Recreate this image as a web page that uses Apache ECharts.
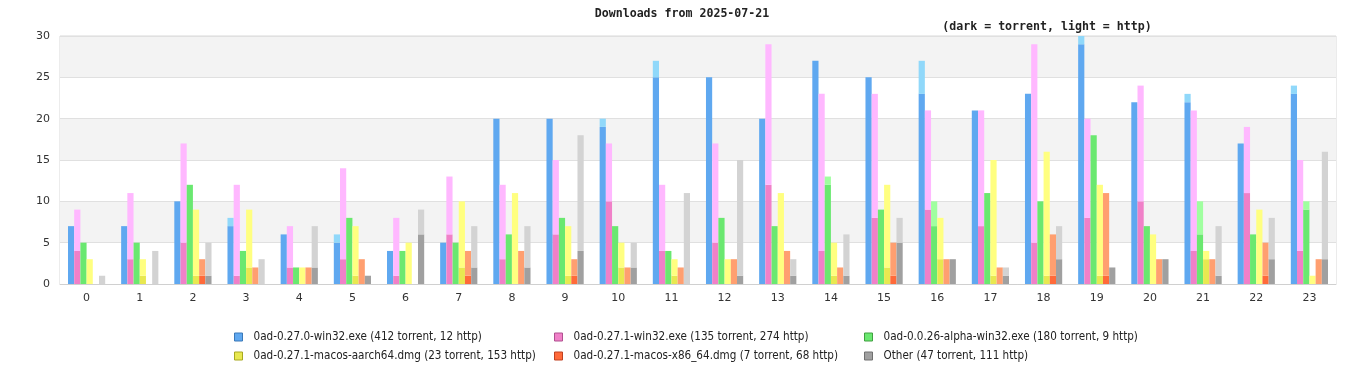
<!DOCTYPE html>
<html><head><meta charset="utf-8">
<script src="https://cdn.jsdelivr.net/npm/echarts@6/dist/echarts.min.js"></script>
<style>html,body{margin:0;padding:0;background:#fff}#c{width:1366px;height:380px}</style>
</head><body><div id="c"></div>
<script>
const hours = ['0','1','2','3','4','5','6','7','8','9','10','11','12','13','14','15','16','17','18','19','20','21','22','23'];
const yTicks = [0,5,10,15,20,25,30];
const names = [
  '0ad-0.27.0-win32.exe (412 torrent, 12 http)',
  '0ad-0.27.1-win32.exe (135 torrent, 274 http)',
  '0ad-0.0.26-alpha-win32.exe (180 torrent, 9 http)',
  '0ad-0.27.1-macos-aarch64.dmg (23 torrent, 153 http)',
  '0ad-0.27.1-macos-x86_64.dmg (7 torrent, 68 http)',
  'Other (47 torrent, 111 http)'
];
const win270Torrent = [7,7,10,7,6,5,4,5,20,20,19,25,25,20,27,25,23,21,23,29,22,22,17,23];
const win270Http    = [0,0,0,1,0,1,0,0,0,0,1,2,0,0,0,0,4,0,0,1,0,1,0,1];
const win271Torrent = [4,3,5,1,2,3,1,6,3,6,10,4,5,12,4,8,9,7,5,8,10,4,11,4];
const win271Http    = [5,8,12,11,5,11,7,7,9,9,7,8,12,17,19,15,12,14,24,12,14,17,8,11];
const alphaTorrent  = [5,5,12,4,2,8,4,5,6,8,7,4,8,7,12,9,7,11,10,18,7,6,6,9];
const alphaHttp     = [0,0,0,0,0,0,0,0,0,0,0,0,0,0,1,0,3,0,0,0,0,4,0,1];
const aarchTorrent  = [0,1,1,2,0,1,0,2,0,1,2,1,0,0,1,2,3,1,1,1,0,3,0,0];
const aarchHttp     = [3,2,8,7,2,6,5,8,11,6,3,2,3,11,4,10,5,14,15,11,6,1,9,1];
const x86Torrent    = [0,0,1,0,0,0,0,1,0,1,0,0,0,0,0,1,0,0,1,1,0,0,1,0];
const x86Http       = [0,0,2,2,2,3,0,3,4,2,2,2,3,4,2,4,3,2,5,10,3,3,4,3];
const otherTorrent  = [0,0,1,0,2,1,6,2,2,4,2,0,1,1,1,5,3,1,3,2,3,1,3,3];
const otherHttp     = [1,4,4,3,5,0,3,5,5,14,3,11,14,2,5,3,0,1,4,0,0,6,5,13];

const torrentData = [win270Torrent, win271Torrent, alphaTorrent, aarchTorrent, x86Torrent, otherTorrent];
const httpData = [win270Http, win271Http, alphaHttp, aarchHttp, x86Http, otherHttp];
const darkColors  = ['#5fa8f0','#f080c8','#6ae870','#e8e850','#ff6a3a','#a0a0a0'];
const lightColors = ['#90d8fa','#ffb8ff','#a0ffa0','#ffff80','#ff9f70','#d3d3d3'];
const borderColors = ['#3a78b8','#b05090','#40a040','#a8a820','#c04020','#707070'];

const series = [];
for (let i = 0; i < 6; i++) {
  series.push({name: names[i], type: 'bar', stack: 's' + i, data: torrentData[i],
    itemStyle: {color: darkColors[i]},
    barCategoryGap: '30%', barGap: '0%', silent: true});
  series.push({name: names[i] + ' http', type: 'bar', stack: 's' + i, data: httpData[i],
    itemStyle: {color: lightColors[i]}, barCategoryGap: '30%', barGap: '0%', silent: true});
}

const legendPos = [[234,331],[554,331],[864,331],[234,350],[554,350],[864,350]];
const legends = names.map((n, i) => ({
  data: [{name: n, itemStyle: {color: darkColors[i], borderColor: borderColors[i], borderWidth: 1}}],
  left: legendPos[i][0], top: legendPos[i][1], orient: 'horizontal',
  icon: 'rect', itemWidth: 8, itemHeight: 8, itemGap: 0,
  padding: 0, selectedMode: false,
  textStyle: {fontFamily: 'DejaVu Sans Condensed, DejaVu Sans', fontSize: 11.6, color: '#222', padding: [0,0,0,6]}
}));

const chart = echarts.init(document.getElementById('c'), null, {renderer: 'canvas'});
chart.setOption({
  animation: false,
  backgroundColor: '#fff',
  title: [
    {text: 'Downloads from 2025-07-21', left: 677, top: 3, textAlign: 'center',
     textStyle: {fontFamily: 'DejaVu Sans Mono', fontWeight: 'bold', fontSize: 11.6, color: '#222'}},
    {text: '(dark = torrent, light = http)', left: 1042, top: 16, textAlign: 'center',
     textStyle: {fontFamily: 'DejaVu Sans Mono', fontWeight: 'bold', fontSize: 11.6, color: '#222'}}
  ],
  legend: legends,
  grid: {left: 60, right: 30, top: 36, bottom: 96, show: true, borderColor: '#d8d8d8', borderWidth: 1, backgroundColor: 'transparent'},
  xAxis: {type: 'category', data: hours,
    axisLine: {lineStyle: {color: '#d0d0d0'}}, axisTick: {show: false},
    axisLabel: {color: '#333', fontFamily: 'DejaVu Sans', fontSize: 11, margin: 9}},
  yAxis: {type: 'value', min: yTicks[0], max: yTicks[yTicks.length-1], interval: 5,
    axisLine: {show: false}, axisTick: {show: false},
    axisLabel: {color: '#333', fontFamily: 'DejaVu Sans', fontSize: 11, margin: 10},
    splitLine: {lineStyle: {color: '#e0e0e0'}},
    splitArea: {show: true, areaStyle: {color: ['#ffffff', '#f3f3f3']}}},
  series: series
});
</script></body></html>
